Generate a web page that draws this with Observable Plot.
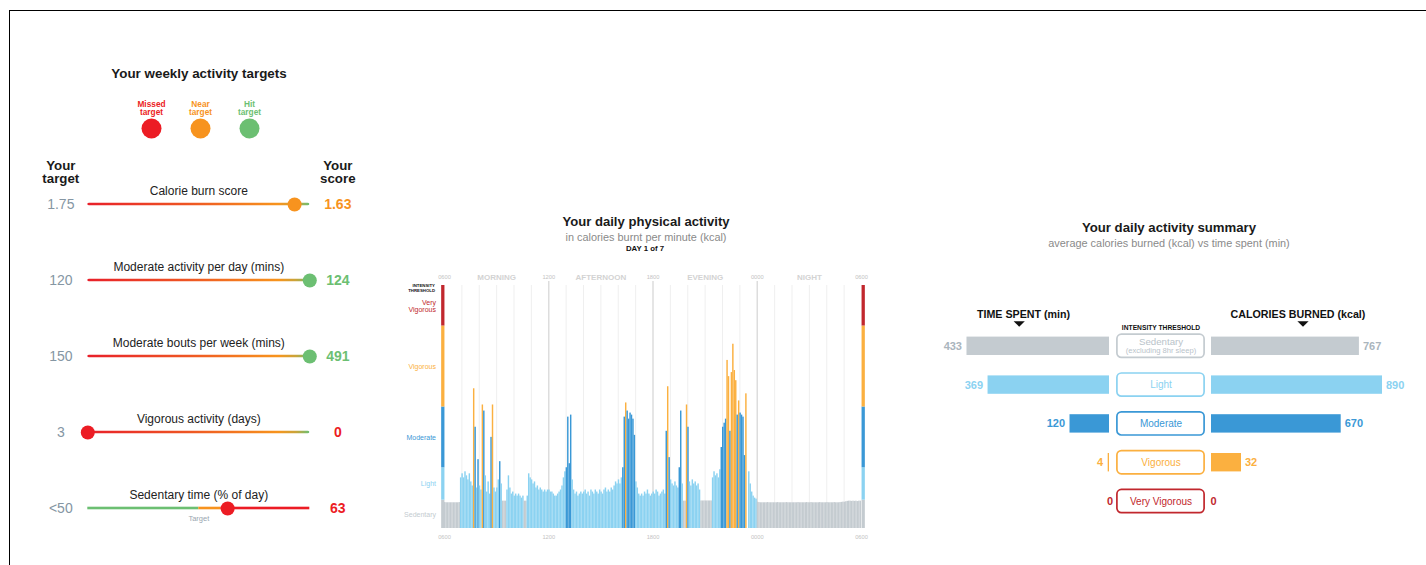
<!DOCTYPE html>
<html><head><meta charset="utf-8">
<script src="https://cdn.jsdelivr.net/npm/d3@7"></script>
<script src="https://cdn.jsdelivr.net/npm/@observablehq/plot@0.6"></script>
<style>
html,body{margin:0;padding:0;background:#fff;}
body{width:1426px;height:565px;overflow:hidden;font-family:"Liberation Sans",Arial,Helvetica,sans-serif;}
#page{position:relative;width:1426px;height:565px;overflow:hidden;}
.frame{position:absolute;left:9px;top:10px;width:1500px;height:700px;border-top:1px solid #000;border-left:1px solid #000;}
.abs{position:absolute;line-height:0;}
.t{position:absolute;transform:translate(-50%,-50%);white-space:nowrap;line-height:1;}
</style></head>
<body>
<svg width="0" height="0" style="position:absolute"><defs>
<linearGradient id="tgrad" x1="0" x2="1" y1="0" y2="0">
<stop offset="0" stop-color="#e8202a"/>
<stop offset="0.45" stop-color="#ee5523"/>
<stop offset="0.86" stop-color="#f7941d"/>
<stop offset="0.94" stop-color="#c9a43a"/>
<stop offset="1" stop-color="#6cbf72"/>
</linearGradient></defs></svg>
<div id="page"><div class="frame"></div></div>
<script>
// ---------------- data ----------------
const targetNames = ["Calorie burn score","Moderate activity per day (mins)","Moderate bouts per week (mins)","Vigorous activity (days)","Sedentary time (% of day)"];
const targetValues = [1.75, 120, 150, 3, 50];
const targetLabels = ["1.75","120","150","3","<50"];
const scoreValues = [1.63, 124, 491, 0, 63];
const scoreLabels = ["1.63","124","491","0","63"];
const scoreStatus = ["Near target","Hit target","Hit target","Missed target","Missed target"];
const statusNames = ["Missed target","Near target","Hit target"];
const statusColors = ["#ec1c24","#f7931e","#6cbf72"];
const sedentaryZoneFrom = [0, 50, 60];
const sedentaryZoneTo = [50, 60, 100];
const sedentaryZoneStatus = ["Hit target","Near target","Missed target"];

const levels = ["Sedentary","Light","Moderate","Vigorous","Very Vigorous"];
const levelColors = ["#c4cbd0","#8bd2f1","#3a98d6","#fbb040","#c1272d"];
const levelFrom = [0, 1.4, 3, 6, 10];
const levelTo = [1.4, 3, 6, 10, 12];
const levelText = ["Sedentary","Light","Moderate","Vigorous","Very\nVigorous"];
const binMinutes = 5;
// kcal per minute, 5-minute bins from 06:00
const activity = [
1.28,1.27,1.27,1.27,1.27,1.27,1.27,1.27,1.27,1.27,1.28,2.5,
2.7,2.5,2.8,2.6,2.4,2.7,2.3,2.1,6.9,5.0,2.0,3.4,
2.1,1.9,6.1,5.8,2.6,1.8,2.3,1.7,4.5,6.1,2.0,1.8,
2.0,2.4,3.3,2.2,1.35,1.35,1.35,1.9,2.6,2.0,1.7,1.8,
1.6,1.7,1.6,1.7,1.6,1.5,1.6,1.35,1.35,1.6,2.7,2.5,
2.4,2.2,2.3,2.0,2.1,1.9,2.0,1.9,1.8,1.9,1.8,1.9,
1.9,1.8,1.8,1.7,1.6,1.6,1.7,1.8,1.9,2.1,2.5,2.8,
3.0,5.5,3.2,5.6,2.4,1.9,1.7,1.8,1.6,1.7,1.8,1.7,
1.8,1.9,1.7,1.8,1.6,1.9,1.8,1.7,1.9,1.8,1.7,1.9,
1.8,1.7,1.9,2.0,1.8,1.9,1.8,2.0,1.9,2.1,2.3,2.2,
2.4,2.2,2.5,3.0,5.5,6.2,5.8,5.4,5.7,5.6,5.4,4.6,
2.3,2.0,1.7,1.6,1.7,1.6,1.8,1.7,1.9,1.7,1.6,1.7,
1.8,1.7,1.9,1.8,1.6,1.7,1.8,1.9,1.7,4.8,7.0,3.5,
2.4,2.2,2.1,2.3,2.1,2.0,3.0,5.8,2.2,1.35,1.35,6.1,
5.0,2.3,2.1,2.4,2.2,2.3,2.1,2.2,1.9,1.36,1.36,1.36,
1.36,1.36,1.36,1.36,1.36,2.5,2.8,2.6,2.7,2.5,2.9,4.0,
5.0,5.2,5.4,8.3,7.5,4.8,7.7,9.1,7.8,7.3,5.6,6.3,
5.7,5.6,5.5,3.6,6.65,0,2.8,2.2,1.8,1.6,1.5,1.45,
1.3,1.28,1.27,1.27,1.27,1.27,1.27,1.28,1.27,1.27,1.27,1.27,
1.27,1.27,1.28,1.27,1.27,1.27,1.27,1.27,1.28,1.27,1.27,1.27,
1.27,1.27,1.27,1.27,1.28,1.27,1.27,1.27,1.27,1.27,1.28,1.27,
1.27,1.28,1.27,1.27,1.27,1.27,1.27,1.28,1.27,1.27,1.27,1.27,
1.28,1.27,1.27,1.27,1.27,1.28,1.27,1.27,1.27,1.28,1.29,1.3,
1.3,1.32,1.34,1.35,1.35,1.34,1.35,1.34,1.35,1.33,1.35,1.35
];
const hourTickLabels = ["0600","1200","1800","0000","0600"];
const dayParts = ["MORNING","AFTERNOON","EVENING","NIGHT"];

const timeSpent = [433, 369, 120, 4, 0];
const caloriesBurned = [767, 890, 670, 32, 0];
const boxLabels = ["Sedentary","Light","Moderate","Vigorous","Very Vigorous"];
// the calorie bars are drawn on a piecewise scale (short bars are stretched in the original)
const kcalBreaks = [0, 32, 670, 890];
const kcalLengths = [0, 30, 129.7, 171];

// ---------------- helpers ----------------
const FONT = '"Liberation Sans", Arial, Helvetica, sans-serif';
const page = document.getElementById("page");
function place(svg, left, top) {
  const d = document.createElement("div");
  d.className = "abs"; d.style.left = left + "px"; d.style.top = top + "px";
  d.appendChild(svg); page.appendChild(d);
}
function label(text, cx, cy, size, weight, color) {
  const d = document.createElement("div");
  d.className = "t"; d.textContent = text;
  Object.assign(d.style, {left: cx + "px", top: cy + "px", fontSize: size + "px", fontWeight: weight, color});
  page.appendChild(d);
}
const baseStyle = {background: "transparent", overflow: "visible", fontFamily: FONT};

// ---------------- left panel ----------------
label("Your weekly activity targets", 199, 73.5, 13.4, "bold", "#1a1a1a");

const statusScale = {domain: statusNames, range: statusColors};
place(Plot.plot({
  width: 180, height: 45, marginLeft: 40.7, marginRight: 40, marginTop: 23, marginBottom: 2,
  x: {type: "point", domain: statusNames, padding: 0, axis: null},
  color: statusScale, style: baseStyle,
  marks: [
    Plot.dot(statusNames, {x: d => d, r: 10, fill: d => d}),
    Plot.text(statusNames, {x: d => d, text: d => d.replace(" ", "\n"), dy: -20.5, fontSize: 8.3, fontWeight: "bold", fill: d => d, lineHeight: 1})
  ]
}), 110, 95);

const rows = targetNames.map((name, i) => ({
  name, target: targetValues[i], targetLabel: targetLabels[i],
  score: scoreValues[i], scoreLabel: scoreLabels[i], status: scoreStatus[i],
  pos: i < 4 ? Math.min(scoreValues[i] / targetValues[i], 1) : scoreValues[i] / 100,
  gradient: i < 4
}));
const zones = sedentaryZoneFrom.map((f, i) => ({from: f, to: sedentaryZoneTo[i], status: sedentaryZoneStatus[i]}));
const lineInset = 36.7;
place(Plot.plot({
  width: 340, height: 400, marginLeft: 57.3, marginRight: 60.7, marginTop: 13.6, marginBottom: 2,
  x: {domain: [0, 1], axis: null},
  y: {type: "band", domain: targetNames, padding: 0, axis: null},
  color: statusScale, style: baseStyle,
  marks: [
    Plot.barX(rows.filter(d => d.gradient), {x1: 0, x2: 1, y: "name", fill: "url(#tgrad)", insetTop: lineInset, insetBottom: lineInset, rx: 1.8}),
    Plot.barX(zones, {x1: d => d.from / 100, x2: d => d.to / 100, y: () => targetNames[4], fill: "status", insetTop: lineInset, insetBottom: lineInset}),
    Plot.dot(rows, {x: "pos", y: "name", r: 7, fill: "status"}),
    Plot.text(rows, {x: 0.5, y: "name", dy: -13.5, text: "name", fontSize: 12, fill: "#222"}),
    Plot.text(rows, {x: 0, y: "name", dx: -27, text: "targetLabel", fontSize: 14, fill: "#8596a3"}),
    Plot.text(rows, {x: 1, y: "name", dx: 28, text: "scoreLabel", fontSize: 14, fontWeight: "bold", fill: "status"}),
    Plot.text(["Your\ntarget"], {x: 0, y: () => targetNames[0], dx: -27, dy: -32.5, text: d => d, fontSize: 13.3, fontWeight: "bold", lineHeight: 1, fill: "#1a1a1a"}),
    Plot.text(["Your\nscore"], {x: 1, y: () => targetNames[0], dx: 28, dy: -32.5, text: d => d, fontSize: 13.3, fontWeight: "bold", lineHeight: 1, fill: "#1a1a1a"}),
    Plot.text(["Target"], {x: targetValues[4] / 100, y: () => targetNames[4], dy: 10, text: d => d, fontSize: 7.5, fill: "#9aa6b0"})
  ]
}), 30, 150);

// ---------------- middle panel ----------------
label("Your daily physical activity", 646, 222, 13.1, "bold", "#1a1a1a");
label("in calories burnt per minute (kcal)", 646, 237, 10.9, "normal", "#8a8a8a");
label("DAY 1 of 7", 645, 248.5, 7.8, "bold", "#111");

const levelColor = {domain: levels, range: levelColors};
const levelOf = v => levels[levelTo.findIndex(t => v < t)] ?? levels[levels.length - 1];
const bins = activity.map((v, i) => ({t0: i * binMinutes, t1: (i + 1) * binMinutes, v, level: levelOf(v)}));
const thr = levels.map((level, i) => ({level, from: levelFrom[i], to: levelTo[i], text: levelText[i]}));
const dayMinutes = activity.length * binMinutes;
const hourLines = d3.range(60, dayMinutes, 60).filter(m => m % 360 !== 0);
const majorLines = d3.range(360, dayMinutes, 360);

place(Plot.plot({
  width: 480, height: 285, marginLeft: 49, marginRight: 14, marginTop: 20, marginBottom: 22,
  x: {domain: [0, dayMinutes], axis: null},
  y: {domain: [0, levelTo[levelTo.length - 1]], axis: null},
  color: levelColor, style: baseStyle,
  marks: [
    Plot.ruleX(hourLines, {stroke: "#efefef", strokeWidth: 1}),
    Plot.ruleX(majorLines, {stroke: "#dddddd", strokeWidth: 1.5, insetTop: -4}),
    Plot.rectY(bins, {x1: "t0", x2: "t1", y: "v", fill: "level"}),
    Plot.ruleX(thr, {x: 0, y1: "from", y2: "to", stroke: "level", strokeWidth: 3.3, dx: -1.7}),
    Plot.ruleX(thr, {x: dayMinutes, y1: "from", y2: "to", stroke: "level", strokeWidth: 3.3, dx: 1.7}),
    Plot.text(thr, {x: 0, y: d => (d.from + d.to) / 2, text: "text", dx: -8.5, textAnchor: "end", fill: "level", fontSize: 7, lineHeight: 1}),
    Plot.text(["INTENSITY\nTHRESHOLD"], {x: 0, y: levelTo[levelTo.length - 1], dx: -9.5, dy: 2.5, text: d => d, textAnchor: "end", fontSize: 4.3, fontWeight: "bold", lineHeight: 1.1, fill: "#111"}),
    Plot.text(hourTickLabels, {x: (d, i) => i * 360, text: d => d, frameAnchor: "top", lineAnchor: "middle", dy: -8.3, fontSize: 5.7, fill: "#c3c3c3"}),
    Plot.text(dayParts, {x: (d, i) => 180 + i * 360, text: d => d, frameAnchor: "top", lineAnchor: "middle", dy: -8.3, fontSize: 8, fontWeight: "bold", fill: "#d3d3d3"}),
    Plot.text(hourTickLabels, {x: (d, i) => i * 360, text: d => d, frameAnchor: "bottom", lineAnchor: "middle", dy: 8.7, fontSize: 5.7, fill: "#c3c3c3"})
  ]
}), 395, 265);

// ---------------- right panel ----------------
label("Your daily activity summary", 1169, 227.5, 13.2, "bold", "#1a1a1a");
label("average calories burned (kcal) vs time spent (min)", 1169, 243, 10.9, "normal", "#8a8a8a");

const summary = levels.map((level, i) => ({level, time: timeSpent[i], kcal: caloriesBurned[i], box: boxLabels[i]}));
const bandY = {type: "band", domain: levels, paddingInner: 0.356, paddingOuter: 0.5, axis: null, round: false};
const rightDims = {height: 245, marginTop: 23.9, marginBottom: 2.1, marginLeft: 0, marginRight: 0};
const flatDown = {draw(ctx, size) { const s = Math.sqrt(size / Math.PI); ctx.moveTo(-s, -s / 2); ctx.lineTo(s, -s / 2); ctx.lineTo(0, s / 2); ctx.closePath(); }};
const sedText = "#aab5bd";
const valueFont = {fontSize: 11, fontWeight: "bold"};

// time spent (left)
place(Plot.plot({
  width: 209, ...rightDims,
  x: {domain: [0, 635], reverse: true, axis: null},
  y: bandY, color: levelColor, style: baseStyle,
  marks: [
    Plot.barX(summary, {x: "time", y: "level", fill: "level", insetTop: 3.3, insetBottom: 3.3}),
    Plot.text(summary.filter(d => d.time > 0 && d.level !== "Sedentary"), {x: "time", y: "level", text: d => String(d.time), dx: -5, textAnchor: "end", fill: "level", ...valueFont}),
    Plot.text(summary.filter(d => d.level === "Sedentary"), {x: "time", y: "level", text: d => String(d.time), dx: -5, textAnchor: "end", fill: sedText, ...valueFont}),
    Plot.text(summary.filter(d => d.time === 0), {x: "time", y: "level", text: d => String(d.time), dx: 3.7, textAnchor: "end", fill: "level", ...valueFont}),
    Plot.text(["TIME SPENT (min)"], {frameAnchor: "top", lineAnchor: "middle", dx: 18.5, dy: 0, text: d => d, fontSize: 10.7, fontWeight: "bold", fill: "#111"}),
    Plot.dot([0], {frameAnchor: "top", dx: 14.2, dy: 9.6, r: 5.6, symbol: flatDown, fill: "#111"})
  ]
}), 900, 290);

// center threshold boxes
place(Plot.plot({
  width: 89, ...rightDims,
  y: bandY, color: levelColor, style: baseStyle,
  marks: [
    Plot.cell(summary, {y: "level", fill: "white", stroke: "level", strokeWidth: 1.7, rx: 4.5, inset: 0.9}),
    Plot.text(summary.filter(d => d.level !== "Sedentary"), {y: "level", text: "box", fill: "level", fontSize: 10}),
    Plot.text(summary.filter(d => d.level === "Sedentary"), {y: "level", text: "box", dy: -4.2, fill: "#b9c3ca", fontSize: 9.7}),
    Plot.text(summary.filter(d => d.level === "Sedentary"), {y: "level", text: () => "(excluding 8hr sleep)", dy: 4.6, fill: "#b9c3ca", fontSize: 7.6}),
    Plot.text(["INTENSITY THRESHOLD"], {frameAnchor: "top", lineAnchor: "middle", dy: 13.4, text: d => d, fontSize: 6.7, fontWeight: "bold", fill: "#111"})
  ]
}), 1116, 290);

// calories burned (right)
const kcalScale = d3.scaleLinear().domain(kcalBreaks).range(kcalLengths);
place(Plot.plot({
  width: 215, ...rightDims,
  x: {transform: v => kcalScale(v), domain: [0, 215], range: [0, 215], axis: null},
  y: bandY, color: levelColor, style: baseStyle,
  marks: [
    Plot.barX(summary, {x1: 0, x2: "kcal", y: "level", fill: "level", insetTop: 3.3, insetBottom: 3.3}),
    Plot.text(summary.filter(d => d.kcal > 0 && d.level !== "Sedentary"), {x: "kcal", y: "level", text: d => String(d.kcal), dx: 3.5, textAnchor: "start", fill: "level", ...valueFont}),
    Plot.text(summary.filter(d => d.level === "Sedentary"), {x: "kcal", y: "level", text: d => String(d.kcal), dx: 3.5, textAnchor: "start", fill: sedText, ...valueFont}),
    Plot.text(summary.filter(d => d.kcal === 0), {x: "kcal", y: "level", text: d => String(d.kcal), dx: -1, textAnchor: "start", fill: "level", ...valueFont}),
    Plot.text(["CALORIES BURNED (kcal)"], {frameAnchor: "top", lineAnchor: "middle", dx: -21, dy: 0, text: d => d, fontSize: 10.7, fontWeight: "bold", fill: "#111"}),
    Plot.dot([0], {frameAnchor: "top", dx: -16, dy: 9.6, r: 5.6, symbol: flatDown, fill: "#111"})
  ]
}), 1211, 290);
</script>
</body></html>
